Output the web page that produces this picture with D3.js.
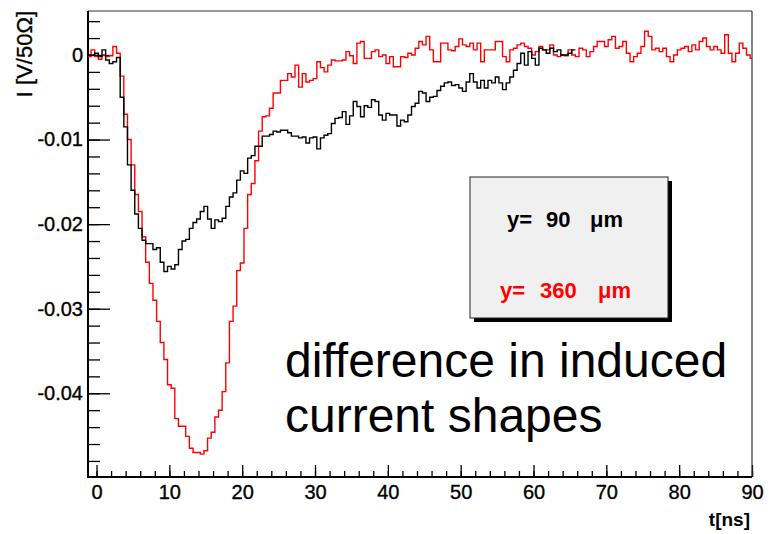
<!DOCTYPE html>
<html>
<head>
<meta charset="utf-8">
<script src="https://cdn.jsdelivr.net/npm/d3@7"></script>
<style>
body { margin: 0; background: #fff; }
text { font-family: "Liberation Sans", Arial, Helvetica, sans-serif; }
</style>
</head>
<body>
<script>
var width = 769;
var height = 534;

// histogram bins in ns
var binStart = -1.25;
var binWidth = 0.5;

// induced current, units of 1e-3 V/50 Ohm, one value per 0.5 ns bin starting at -1.25 ns
var current90 = [
   0.0,   0.0,   0.2,  -0.2,   0.6,  -0.6,  -1.0,  -0.8,  -0.3,  -5.0,
  -8.5, -13.0, -16.0, -18.8, -20.5, -21.9, -22.3, -22.3, -23.0, -22.8,
 -24.5, -25.6, -25.0, -25.3, -24.8, -23.0, -22.0, -21.8, -20.5, -19.8,
 -19.4, -18.5, -17.9, -19.4, -20.5, -19.5, -19.7, -19.3, -17.9, -16.8,
 -16.3, -14.8, -13.7, -14.0, -12.2, -11.9, -10.8, -10.8,  -9.6,  -9.6,
  -9.4,  -9.0,  -9.1,  -8.9,  -8.9,  -9.2,  -9.6,  -9.6,  -9.8,  -9.7,
 -10.4,  -9.8,  -9.7, -11.1,  -9.8,  -9.5,  -9.3,  -8.1,  -7.5,  -7.4,
  -6.7,  -8.2,  -7.2,  -5.5,  -6.1,  -7.3,  -6.0,  -6.2,  -5.3,  -5.5,
  -7.1,  -7.7,  -6.9,  -7.1,  -7.1,  -8.4,  -7.7,  -7.9,  -7.1,  -6.1,
  -5.7,  -4.3,  -4.5,  -5.5,  -5.0,  -4.9,  -4.2,  -3.7,  -3.3,  -3.2,
  -3.6,  -3.5,  -3.9,  -4.3,  -3.2,  -2.2,  -3.2,  -3.9,  -3.0,  -3.9,
  -3.0,  -3.3,  -2.6,  -3.3,  -4.1,  -3.3,  -2.6,  -1.8,  -1.0,   0.2,
  -1.2,   0.4,  -0.4,  -1.2,   0.8,   0.6,   0.2,   0.8,   0.4,   0.6,
   0.0,   0.0,   0.2,   0.6
];

var current360 = [
  -0.2,   0.6,  -0.2,  -0.5,   0.0,  -0.2,  -0.1,   1.0,   0.2,  -2.5,
  -7.0, -10.0, -13.0, -16.5, -18.5, -21.5, -24.5, -27.0, -29.0, -31.5,
 -34.0, -36.0, -39.0, -39.4, -43.0, -43.9, -43.9, -45.1, -46.5, -47.0,
 -47.0, -47.2, -46.8, -45.3, -44.6, -42.8, -42.0, -39.8, -36.4, -31.5,
 -29.7, -25.5, -24.6, -20.5, -16.5, -15.2, -12.5,  -9.0,  -7.3,  -7.2,
  -6.3,  -4.5,  -4.5,  -3.0,  -3.0,  -2.2,  -2.6,  -1.2,  -3.8,  -2.2,
  -3.2,  -3.0,  -2.8,  -0.8,  -1.5,  -2.0,  -1.2,  -0.6,  -0.7,  -0.7,
  -0.6,   0.4,  -0.1,  -1.0,   1.4,   1.6,  -0.4,  -0.4,   0.4,   0.6,
  -0.2,   0.0,  -1.0,  -0.2,  -1.4,  -1.4,  -0.2,  -0.3,   0.2,   0.0,
   0.8,   1.6,   1.2,   2.2,   0.6,  -0.8,  -0.8,   1.4,   1.4,   0.6,
   0.5,   1.0,   1.9,   1.2,   1.0,   1.4,   0.6,   1.4,  -0.8,   0.6,
   0.6,   0.6,   1.6,   1.6,  -0.2,  -0.8,   0.6,   0.8,   1.2,   1.4,
   1.0,   0.8,   0.0,   0.4,   1.0,   0.6,   0.6,   1.2,   0.0,  -0.2,
   0.0,  -0.1,   0.6,   0.0,  -0.2,   0.8,   0.6,  -0.2,   0.4,   1.0,
   1.6,   1.6,   1.0,   1.8,   2.2,   0.8,   1.0,   1.6,   0.2,  -0.8,
  -0.2,   0.2,   1.0,   2.8,   2.2,   0.6,   0.8,   0.4,   0.8,  -0.2,
  -0.8,   0.0,   0.6,   0.8,   1.0,   0.4,   1.2,   0.6,   1.6,   2.0,
   1.0,   0.6,   1.0,   0.6,   0.2,   2.4,   0.2,  -0.8,   0.2,   1.4,
   0.8,   0.0,  -0.4
];

var timeTicks = [0, 10, 20, 30, 40, 50, 60, 70, 80, 90];
var currentTicks = [0, -0.01, -0.02, -0.03, -0.04];
var currentTickLabels = ["0", "-0.01", "-0.02", "-0.03", "-0.04"];

var legendNumbers = ["90", "360"];
var legendColors = ["#000000", "#ff0000"];
var noteLines = ["difference in induced", "current shapes"];

var frame = {left: 88, right: 752, top: 11, bottom: 477};

var svg = d3.select("body")
    .append("svg")
    .attr("width", width)
    .attr("height", height);

var x = d3.scaleLinear().domain([-1.17, 90]).range([frame.left, frame.right]);
var y = d3.scaleLinear().domain([-0.0499, 0.0052]).range([frame.bottom, frame.top]);

svg.append("clipPath").attr("id", "plotclip")
  .append("rect")
    .attr("x", frame.left)
    .attr("y", frame.top)
    .attr("width", frame.right - frame.left)
    .attr("height", frame.bottom - frame.top);

// minor ticks
svg.append("g")
    .attr("transform", "translate(" + frame.left + ",0)")
    .call(d3.axisLeft(y).tickValues(d3.range(-0.048, 0.0051, 0.002)).tickSize(-12).tickFormat(""))
    .call(function(g) { g.select(".domain").remove(); });

svg.append("g")
    .attr("transform", "translate(0," + frame.bottom + ")")
    .call(d3.axisBottom(x).tickValues(d3.range(0, 90.1, 2)).tickSize(-6).tickFormat(""))
    .call(function(g) { g.select(".domain").remove(); });

// major ticks + labels
var yAxis = svg.append("g")
    .attr("transform", "translate(" + frame.left + ",0)")
    .call(d3.axisLeft(y).tickValues(currentTicks).tickSize(-22).tickPadding(5)
        .tickFormat(function(d, i) { return currentTickLabels[i]; }));
yAxis.select(".domain").remove();

var xAxis = svg.append("g")
    .attr("transform", "translate(0," + frame.bottom + ")")
    .call(d3.axisBottom(x).tickValues(timeTicks).tickSize(-12).tickPadding(8));
xAxis.select(".domain").remove();

svg.selectAll(".tick text")
    .attr("font-size", 20)
    .attr("font-family", null)
    .attr("fill", "#000")
    .attr("stroke", "#000")
    .attr("stroke-width", 0.35);

svg.selectAll(".tick line").attr("stroke", "#000").attr("stroke-width", 1.3);

// frame
svg.append("line").attr("x1", frame.left).attr("x2", frame.right).attr("y1", frame.top).attr("y2", frame.top)
    .attr("stroke", "#333").attr("stroke-width", 1.2);
svg.append("line").attr("x1", frame.right).attr("x2", frame.right).attr("y1", frame.top).attr("y2", frame.bottom)
    .attr("stroke", "#333").attr("stroke-width", 1.2);
svg.append("line").attr("x1", frame.left).attr("x2", frame.left).attr("y1", frame.top).attr("y2", frame.bottom + 1)
    .attr("stroke", "#000").attr("stroke-width", 2);
svg.append("line").attr("x1", frame.left - 1).attr("x2", frame.right).attr("y1", frame.bottom).attr("y2", frame.bottom)
    .attr("stroke", "#000").attr("stroke-width", 2);

// histograms
function histPoints(vals) {
  var pts = vals.map(function(v, i) { return [binStart + i * binWidth, v * 1e-3]; });
  pts.push([binStart + vals.length * binWidth, vals[vals.length - 1] * 1e-3]);
  return pts;
}

var line = d3.line()
    .x(function(d) { return x(d[0]); })
    .y(function(d) { return y(d[1]); })
    .curve(d3.curveStepAfter);

var plot = svg.append("g").attr("clip-path", "url(#plotclip)");

plot.append("path")
    .attr("d", line(histPoints(current360)))
    .attr("fill", "none")
    .attr("stroke", "#ff0000")
    .attr("stroke-width", 1.4);

plot.append("path")
    .attr("d", line(histPoints(current90)))
    .attr("fill", "none")
    .attr("stroke", "#000")
    .attr("stroke-width", 1.4);

// axis titles
svg.append("text")
    .attr("transform", "translate(32," + frame.top + ") rotate(-90)")
    .attr("text-anchor", "end")
    .attr("font-size", 22)
    .attr("stroke", "#000")
    .attr("stroke-width", 0.35)
    .text("I [V/50\u03A9]");

svg.append("text")
    .attr("x", 750)
    .attr("y", 526)
    .attr("text-anchor", "end")
    .attr("font-size", 19)
    .attr("font-weight", "bold")
    .text("t[ns]");

// legend box
var legend = svg.append("g");
legend.append("rect")
    .attr("x", 474).attr("y", 181).attr("width", 198).attr("height", 141)
    .attr("fill", "#000");
legend.append("rect")
    .attr("x", 470).attr("y", 177).attr("width", 198).attr("height", 141)
    .attr("fill", "#f0f0f0").attr("stroke", "#222").attr("stroke-width", 1);

var rows = legend.selectAll(".entry")
    .data(legendNumbers)
  .enter().append("text")
    .attr("class", "entry")
    .attr("y", function(d, i) { return i == 0 ? 227 : 298; })
    .attr("font-size", 22)
    .attr("font-weight", "bold")
    .attr("fill", function(d, i) { return legendColors[i]; });

rows.append("tspan").attr("x", function(d, i) { return i == 0 ? 507 : 500; }).text("y=");
rows.append("tspan").attr("x", function(d, i) { return i == 0 ? 546 : 540; }).text(function(d) { return d; });
rows.append("tspan").attr("x", function(d, i) { return i == 0 ? 590 : 598; }).text("\u03BCm");

// annotation
svg.selectAll(".note")
    .data(noteLines)
  .enter().append("text")
    .attr("class", "note")
    .attr("x", 285)
    .attr("y", function(d, i) { return 377 + i * 55; })
    .attr("font-size", 48)
    .attr("fill", "#000")
    .text(function(d) { return d; });
</script>
</body>
</html>
